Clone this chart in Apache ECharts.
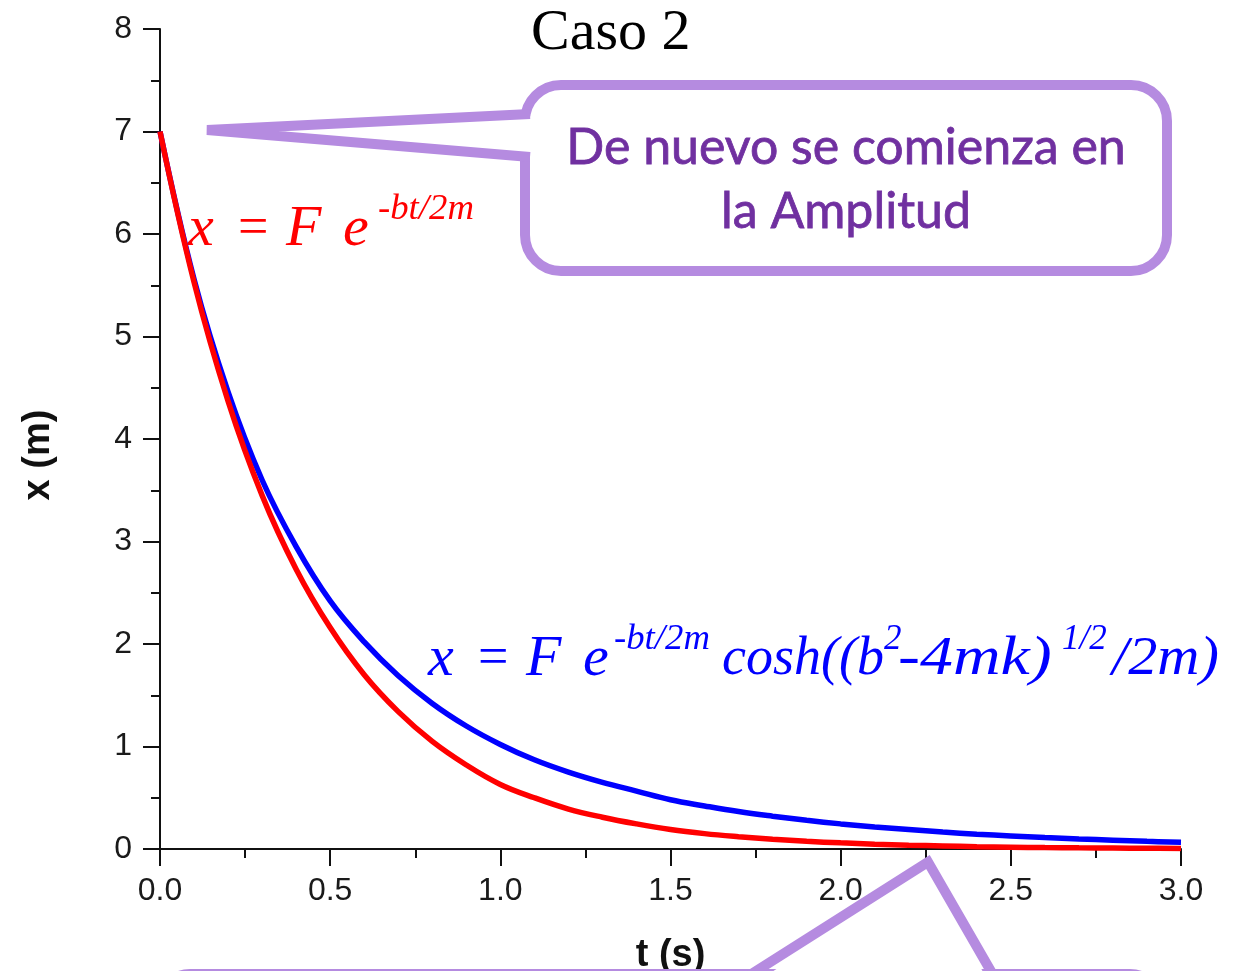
<!DOCTYPE html>
<html>
<head>
<meta charset="utf-8">
<script src="https://cdn.jsdelivr.net/npm/echarts@6/dist/echarts.min.js"></script>
<style>
html,body{margin:0;padding:0;background:#fff;}
#chart{width:1255px;height:971px;}
</style>
</head>
<body>
<div id="chart"></div>
<script>
// ---- data ----
const tValues    = [0, 0.1, 0.2, 0.3, 0.4, 0.5, 0.6, 0.7, 0.8, 0.9, 1.0,
                    1.1, 1.2, 1.3, 1.4, 1.5, 1.6, 1.7, 1.8, 1.9, 2.0,
                    2.1, 2.2, 2.3, 2.4, 2.5, 2.6, 2.7, 2.8, 2.9, 3.0];
const redValues  = [7.00, 5.53, 4.37, 3.45, 2.73, 2.16, 1.70, 1.34, 1.05, 0.82, 0.63,
                    0.50, 0.39, 0.31, 0.245, 0.19, 0.15, 0.12, 0.095, 0.075, 0.06,
                    0.047, 0.037, 0.03, 0.023, 0.018, 0.014, 0.011, 0.009, 0.007, 0.006];
const blueValues = [7.00, 5.56, 4.46, 3.60, 2.95, 2.42, 2.02, 1.69, 1.42, 1.20, 1.02,
                    0.87, 0.75, 0.65, 0.565, 0.48, 0.42, 0.365, 0.32, 0.28, 0.245,
                    0.215, 0.19, 0.165, 0.145, 0.128, 0.112, 0.098, 0.086, 0.075, 0.066];
const titleText = 'Caso 2';
const xName = 't (s)';
const yName = 'x (m)';
const calloutText = ['De nuevo se comienza en', 'la Amplitud'];

const LAV = '#b58be0';
const PURPLE = '#7030a0';
const serif = '"Liberation Serif", "DejaVu Serif", serif';
const sans = '"Liberation Sans", Arial, sans-serif';

const chart = echarts.init(document.getElementById('chart'), null, {renderer: 'canvas'});

function pairs(vals){ return tValues.map((t,i)=>[t, vals[i]]); }

function txt(x, y, s, size, color, opts){
  opts = opts || {};
  return {
    type: 'text', z: 100, x: x, y: y,
    scaleX: opts.scaleX || 1,
    style: {
      text: s, fill: color,
      font: (opts.italic === false ? '' : 'italic ') + size + 'px ' + (opts.family || serif),
      textAlign: opts.align || 'left', textVerticalAlign: 'middle'
    }
  };
}
// "x = F e" laid out glyph by glyph, starting at x0
function formulaHead(x0, y, color){
  return [
    txt(x0, y, 'x', 58, color),
    txt(x0 + 50, y, '=', 54, color, {italic: false}),
    txt(x0 + 98, y, 'F', 58, color),
    txt(x0 + 155, y, 'e', 58, color)
  ];
}

const red = '#ff0000', blue = '#0000ff';

const graphics = [].concat(
  formulaHead(188, 230, red),
  [txt(378, 210, '-bt/2m', 35, red, {scaleX: 1.05})],
  formulaHead(428, 660, blue),
  [
    txt(614, 640, '-bt/2m', 35, blue, {scaleX: 1.05}),
    txt(722, 660, 'cosh((b', 54, blue),
    txt(884, 640, '2', 35, blue),
    txt(898, 660, '-4mk)', 54, blue, {scaleX: 1.22}),
    txt(1062, 640, '1/2', 35, blue),
    txt(1112, 660, '/2m)', 54, blue, {scaleX: 1.08})
  ],
  [
  // top callout box
  {
    type: 'rect', z: 100,
    shape: {x: 525, y: 85, width: 642, height: 186, r: 36},
    style: {fill: '#fff', stroke: LAV, lineWidth: 10}
  },
  {
    type: 'polygon', z: 101,
    shape: {points: [[540, 116], [210, 130], [540, 155]]},
    style: {fill: '#fff'}
  },
  {
    type: 'polyline', z: 102,
    shape: {points: [[530, 114], [207, 130], [530, 157]]},
    style: {fill: null, stroke: LAV, lineWidth: 10, lineJoin: 'bevel'}
  },
  {
    type: 'text', z: 103, x: 846, y: 180,
    style: {
      text: calloutText.join('\n'), fill: PURPLE,
      font: '50px Lato, "Noto Sans", sans-serif',
      lineHeight: 64, textAlign: 'center', textVerticalAlign: 'middle',
      stroke: PURPLE, lineWidth: 0.8
    }
  },
  // bottom callout box (only its top edge shows)
  {
    type: 'rect', z: 100,
    shape: {x: 160, y: 974, width: 1000, height: 120, r: 30},
    style: {fill: '#fff', stroke: LAV, lineWidth: 10}
  },
  {
    type: 'polygon', z: 101,
    shape: {points: [[752, 985], [928, 870], [990, 985]]},
    style: {fill: '#fff'}
  },
  {
    type: 'polyline', z: 102,
    shape: {points: [[742, 980], [928, 862], [996, 980]]},
    style: {fill: null, stroke: LAV, lineWidth: 10, lineJoin: 'miter'}
  }
  ]
);

const option = {
  backgroundColor: '#fff',
  animation: false,
  title: {
    text: titleText, left: 526, top: 0,
    textStyle: {fontFamily: serif, fontSize: 58, fontWeight: 'normal', color: '#000'}
  },
  grid: {left: 160, right: 74, top: 29, bottom: 122, containLabel: false, outerBoundsMode: 'none'},
  xAxis: {
    type: 'value', min: 0, max: 3, interval: 0.5,
    name: xName, nameLocation: 'middle', nameGap: 88,
    nameTextStyle: {fontFamily: sans, fontSize: 38, fontWeight: 'bold', color: '#111'},
    axisLine: {show: true, onZero: false, lineStyle: {color: '#111', width: 2}},
    axisTick: {show: true, length: 17, lineStyle: {color: '#111', width: 2}},
    minorTick: {show: true, splitNumber: 2, length: 9, lineStyle: {color: '#111', width: 2}},
    axisLabel: {fontFamily: sans, fontSize: 32, color: '#1a1a1a', margin: 26,
      formatter: v => v.toFixed(1)},
    splitLine: {show: false}
  },
  yAxis: {
    type: 'value', min: 0, max: 8, interval: 1,
    name: yName, nameLocation: 'middle', nameGap: 102,
    nameTextStyle: {fontFamily: sans, fontSize: 38, fontWeight: 'bold', color: '#111',
      padding: [0, 32, 0, 0]},
    axisLine: {show: true, onZero: false, lineStyle: {color: '#111', width: 2}},
    axisTick: {show: true, length: 17, lineStyle: {color: '#111', width: 2}},
    minorTick: {show: true, splitNumber: 2, length: 9, lineStyle: {color: '#111', width: 2}},
    axisLabel: {fontFamily: sans, fontSize: 32, color: '#1a1a1a', margin: 28},
    splitLine: {show: false}
  },
  series: [
    {type: 'line', name: 'blue', data: pairs(blueValues), smooth: 0.4,
      showSymbol: false, lineStyle: {color: blue, width: 5.5}, z: 2},
    {type: 'line', name: 'red', data: pairs(redValues), smooth: 0.4,
      showSymbol: false, lineStyle: {color: red, width: 5.5}, z: 3}
  ],
  graphic: graphics
};
chart.setOption(option);
</script>
</body>
</html>
